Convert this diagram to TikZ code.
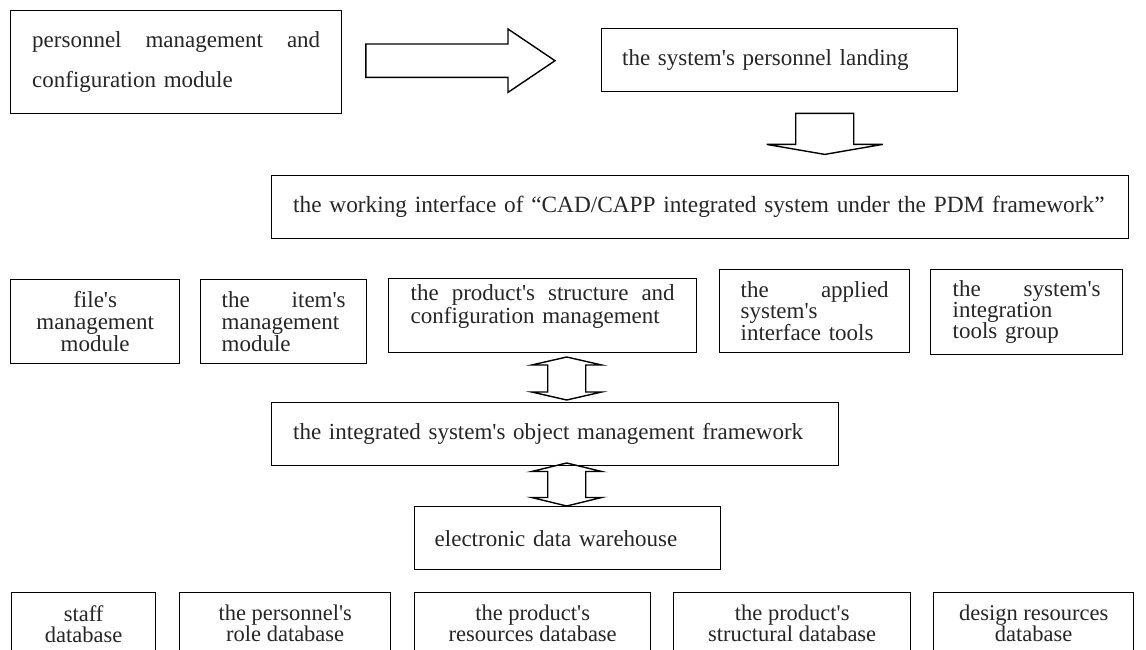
\documentclass[tikz,border=0pt]{standalone}
\usepackage{fontspec}
% plain family: keeps the straight apostrophe of the labels
\newfontfamily\basefont{Liberation Serif}
\usetikzlibrary{calc}

% block arrow: tail, tip, shaft half-width, head half-width, head length
\newcommand\blockarrow[5]{%
  \coordinate (#2-hb) at ($(#2)!#5!(#1)$);
  \draw[arrowline] ($(#1)!#3!90:(#2)$) -- ($(#2-hb)!#3!-90:(#1)$)
    -- ($(#2-hb)!#4!-90:(#1)$) -- (#2) -- ($(#2-hb)!#4!90:(#1)$)
    -- ($(#2-hb)!#3!90:(#1)$) -- ($(#1)!#3!-90:(#2)$) -- cycle;}

% two-way block arrow between two tips
\newcommand\twowayarrow[5]{%
  \coordinate (#1-ha) at ($(#1)!#5!(#2)$);
  \coordinate (#2-hb) at ($(#2)!#5!(#1)$);
  \draw[arrowline] (#1) -- ($(#1-ha)!#4!90:(#2)$) -- ($(#1-ha)!#3!90:(#2)$)
    -- ($(#2-hb)!#3!-90:(#1)$) -- ($(#2-hb)!#4!-90:(#1)$) -- (#2)
    -- ($(#2-hb)!#4!90:(#1)$) -- ($(#2-hb)!#3!90:(#1)$)
    -- ($(#1-ha)!#3!-90:(#2)$) -- ($(#1-ha)!#4!-90:(#2)$) -- cycle;}

% a line spread over a given width
\newcommand\spread[2]{\hbox to #1{#2}}

\begin{document}
\basefont
\begin{tikzpicture}[x=1pt,y=-1pt,
  box/.style={draw=black, line width=1.4pt, inner sep=0pt, anchor=north west,
    text=black!85},
  arrowline/.style={draw=black, line width=1.4pt, line join=miter},
  txt/.style={font=\fontsize{23}{23}\selectfont},
]
\useasboundingbox[fill=white] (0,0) rectangle (1146,650);

% top row
\node[box, minimum width=331pt, minimum height=103pt, text width=288pt,
  align=left, font=\fontsize{23}{40}\selectfont] (A) at (10,10)
  {\spread{288pt}{personnel\hfill management\hfill and}\\configuration module};
\node[box, txt, minimum width=356pt, minimum height=63pt, text width=315pt,
  align=left] (B) at (601,28) {the system's personnel landing};
\node[box, minimum width=857pt, minimum height=63pt, text width=814pt,
  align=left, font=\fontsize{23.3}{23}\selectfont] (C) at (271,175)
  {\mbox{the working interface of “CAD/CAPP integrated system under the PDM framework”}};

% module row
\node[box, txt, minimum width=169pt, minimum height=84pt, align=center,
  font=\fontsize{23}{22}\selectfont] (file) at (10,279)
  {file's\\management\\module};
\node[box, txt, minimum width=166pt, minimum height=84pt, text width=124pt,
  align=left, font=\fontsize{23}{22}\selectfont] (item) at (200,279)
  {\spread{124pt}{the\hfill item's}\\management\\module};
\node[box, txt, minimum width=308pt, minimum height=74pt, text width=264pt,
  align=left, font=\fontsize{23}{23}\selectfont] (prod) at (388,278)
  {\spread{264pt}{the\hfill product's\hfill structure\hfill and}\\configuration management\\\mbox{}};
\node[box, txt, minimum width=190pt, minimum height=83pt, text width=148pt,
  align=left, font=\fontsize{23}{21}\selectfont] (appl) at (719,269)
  {\spread{148pt}{the\hfill applied}\\system's\\interface tools};
\node[box, txt, minimum width=192pt, minimum height=85pt, text width=148pt,
  align=left, font=\fontsize{23}{21}\selectfont] (integ) at (930,269)
  {\spread{148pt}{the\hfill system's}\\integration\\tools group};

% framework and warehouse
\node[box, txt, minimum width=567pt, minimum height=63pt, text width=524pt,
  align=left] (frame) at (271,402)
  {the integrated system's object management framework};
\node[box, txt, minimum width=306pt, minimum height=63pt, text width=266pt,
  align=left] (ware) at (414,506) {electronic data warehouse};

% databases
\tikzset{db/.style={box, minimum height=62pt, align=center,
  font=\fontsize{22.5}{21}\selectfont}}
\node[db, minimum width=144pt] (staff) at (11,592) {staff\\database};
\node[db, minimum width=211pt] (role) at (179,592) {the personnel's\\role database};
\node[db, minimum width=236pt] (res) at (414,592) {the product's\\resources database};
\node[db, minimum width=237pt] (struct) at (673,592) {the product's\\structural database};
\node[db, minimum width=200pt] (design) at (933,592) {design resources\\database};

% block arrows
\coordinate (r1s) at ($(A.east)+(23.5,-1.5)$);
\coordinate (r1e) at ($(B.west)+(-46,0.5)$);
\blockarrow{r1s}{r1e}{16.7pt}{31.7pt}{47pt}

\coordinate (d0s) at ($(B.south)+(45,21)$);
\coordinate (d0e) at ($(d0s)+(0,41)$);
\blockarrow{d0s}{d0e}{29pt}{58pt}{10pt}

\coordinate (u1a) at ($(frame.north)+(11.5,-45)$);
\coordinate (u1b) at ($(frame.north)+(11.5,-2)$);
\twowayarrow{u1a}{u1b}{19pt}{35pt}{8pt}

\coordinate (u2a) at ($(ware.north)+(-1,-43)$);
\coordinate (u2b) at ($(ware.north)+(-1,0)$);
\twowayarrow{u2a}{u2b}{19pt}{35pt}{8.5pt}
\end{tikzpicture}
\end{document}
